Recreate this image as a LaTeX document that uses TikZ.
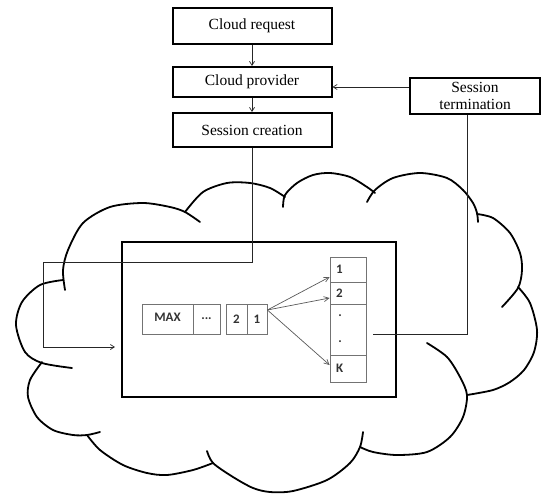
\documentclass[tikz,border=0pt]{standalone}
\usepackage{fontspec}
\setmainfont{Liberation Serif}
\newfontfamily\cellfont{Carlito}
\usetikzlibrary{arrows.meta}
\tikzset{ stage/.style = { rectangle
                         , draw
                         , line width    = 2pt
                         , minimum width = 159pt
                         , inner sep     = 1pt
                         , font          = \fontsize{15.5}{17}\selectfont
                         },
          cell/.style  = { rectangle
                         , draw          = black!55
                         , line width    = 0.8pt
                         , inner sep     = 0pt
                         , text          = black!80
                         , font          = \cellfont\bfseries\fontsize{13}{14}\selectfont
                         },
          slot/.style  = { cell
                         , minimum width = 36pt
                         , text width    = 24pt
                         , inner xsep    = 6pt
                         , align         = left
                         },
          link/.style  = { draw = black!85
                         , line width = 0.7pt
                         , -{Straight Barb[length=4pt,width=5pt]}
                         },
          hop/.style   = { draw = black!65
                         , line width = 0.7pt
                         , -{Straight Barb[length=5pt,width=5pt]}
                         },
          puff/.style  = { line width = 1.8pt
                         , line cap   = round
                         }
        }
\begin{document}
\begin{tikzpicture}[x=1pt, y=-1pt]
      \useasboundingbox (0,0) rectangle (545,495);

      % the cloud, one arc per bump
      \draw[puff] plot[smooth] coordinates {(72,368) (42,363) (25,352) (16,325) (22,302) (40,285) (63,280)};
      \draw[puff] plot[smooth] coordinates {(42,362) (30,380) (28,397) (37,417) (53,430) (73,435) (87,435) (100,432)};
      \draw[puff] plot[smooth] coordinates {(87,435) (100,450) (123,465) (147,473) (167,475) (193,470) (213,463)};
      \draw[puff] plot[smooth] coordinates {(207,451) (213,463) (233,477) (253,488) (270,492) (293,491) (327,480) (350,463) (360,447) (363,432)};
      \draw[puff] plot[smooth] coordinates {(360,447) (373,452) (397,455) (427,452) (450,437) (463,417) (467,395) (460,377) (447,357) (427,343)};
      \draw[puff] plot[smooth] coordinates {(518,287) (530,303) (537,330) (534,352) (524,370) (510,382) (493,390) (467,395)};
      \draw[puff] plot[smooth] coordinates {(477,214) (493,218) (510,233) (520,253) (522,270) (518,288) (502,307)};
      \draw[puff] plot[smooth] coordinates {(367,202) (375,190) (393,178) (420,173) (447,178) (463,190) (473,203) (477,213) (478,222)};
      \draw[puff] plot[smooth] coordinates {(283,207) (285,195) (297,183) (313,175) (330,173) (350,177) (367,187) (375,193)};
      \draw[puff] plot[smooth] coordinates {(185,212) (203,192) (227,183) (250,183) (270,188) (285,197)};
      \draw[puff] plot[smooth] coordinates {(65,290) (63,270) (68,250) (83,223) (110,207) (143,203) (170,207) (185,212) (200,222)};

      % request flow on top
      \node[stage, minimum height=36pt] (req)  at (252,26)  {Cloud request};
      \node[stage, minimum height=30pt] (prov) at (252,82)  {Cloud provider};
      \node[stage, minimum height=34pt] (sc)   at (252,130) {Session creation};
      \node[stage, minimum width=130pt, minimum height=36pt, align=center]
                                        (st)   at (475,96)  {Session\\termination};

      % session pool
      \node[draw, line width=2pt, minimum width=274pt, minimum height=155pt]
                                        (pool) at (259,319.5) {};

      \node[cell, minimum width=51pt, minimum height=30pt, text depth=4pt] (qmax) at (167.5,319) {MAX};
      \node[cell, minimum width=27pt, minimum height=30pt] (qdot) at (206.5,319) {...};
      \node[cell, minimum width=21pt, minimum height=30pt] (q2)   at (236.5,319) {2};
      \node[cell, minimum width=20pt, minimum height=30pt] (q1)   at (257,319)   {1};

      \node[slot, minimum height=25pt] (c1) at (348,269.5) {1};
      \node[slot, minimum height=22pt] (c2) at (348,293)   {2};
      \node[slot, minimum height=51pt] (cd) at (348,329.5) {};
      \node[slot, minimum height=27pt] (ck) at (348,368.5) {K};
      \node[cell, draw=none] (d1) at (340,316) {.};
      \node[cell, draw=none] (d2) at (340,342) {.};

      \coordinate (turn) at (43,262);
      \coordinate (door) at (121,347);
      \coordinate (tail) at (373,334);

      \draw[link] (req) -- (prov);
      \draw[link] (prov) -- (sc);
      \draw[link] (st.west |- 0,87) -- (prov.east |- 0,87);
      \draw[link, shorten >=6pt] (sc.south) |- (turn) |- (door);
      \draw[draw=black!85, line width=0.7pt] (st.south -| 467,0) |- (tail);

      \draw[hop] ([yshift=9pt]q1.east) -- ([yshift=-7.5pt]c1.west);
      \draw[hop] ([yshift=9pt]q1.east) -- ([yshift=-5pt]c2.west);
      \draw[hop] ([yshift=9pt]q1.east) -- ([yshift=3.5pt]ck.west);
    \end{tikzpicture}
\end{document}
